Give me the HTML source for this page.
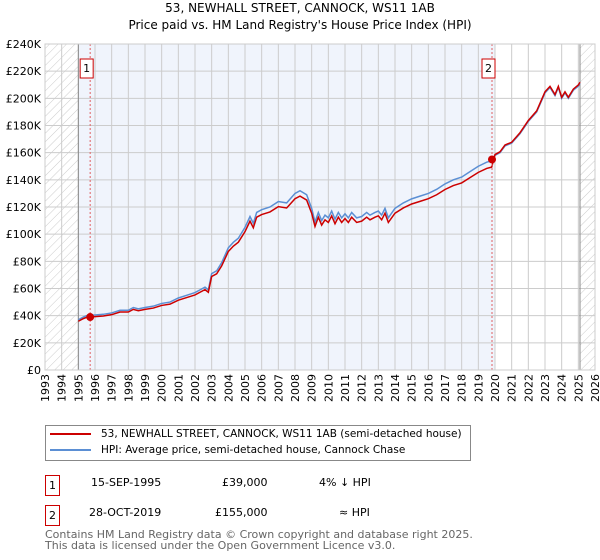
<!DOCTYPE html>
<html><head><meta charset="utf-8">
<style>
body{margin:0;width:600px;height:560px;background:#fff;font-family:"DejaVu Sans","Liberation Sans",sans-serif;position:relative;overflow:hidden;color:#000}
.t{position:absolute;white-space:nowrap}
</style></head><body>
<div class="t" style="left:0;width:600px;text-align:center;top:1px;font-size:12px">53, NEWHALL STREET, CANNOCK, WS11 1AB</div>
<div class="t" style="left:0;width:600px;text-align:center;top:18px;font-size:12px">Price paid vs. HM Land Registry's House Price Index (HPI)</div>
<svg id="chart" width="600" height="410" style="position:absolute;left:0;top:0" font-family="DejaVu Sans, Liberation Sans, sans-serif">
<defs><pattern id="hatch" width="6" height="6" patternUnits="userSpaceOnUse" patternTransform="rotate(45)"><line x1="0" y1="0" x2="0" y2="6" stroke="#ccc" stroke-width="1"/></pattern></defs>
</svg>
<div style="position:absolute;left:45px;top:425px;width:424px;height:34px;border:1px solid #888">
<div class="t" style="left:4px;top:2px;font-size:10.5px"><span style="display:inline-block;width:41px;height:2px;background:#cc0000;vertical-align:middle;margin-right:10px"></span>53, NEWHALL STREET, CANNOCK, WS11 1AB (semi-detached house)</div>
<div class="t" style="left:4px;top:18px;font-size:10.5px"><span style="display:inline-block;width:41px;height:2px;background:#5b8fd4;vertical-align:middle;margin-right:10px"></span>HPI: Average price, semi-detached house, Cannock Chase</div>
</div>
<div class="t" style="left:45px;top:475px;width:13px;height:19px;border:1px solid #cc0000;font-size:11px;text-align:center;line-height:19px">1</div>
<div class="t" style="left:91px;top:476px;font-size:11px">15-SEP-1995</div>
<div class="t" style="left:222px;top:476px;font-size:11px">£39,000</div>
<div class="t" style="left:319px;top:476px;font-size:11px">4% ↓ HPI</div>
<div class="t" style="left:45px;top:505px;width:13px;height:19px;border:1px solid #cc0000;font-size:11px;text-align:center;line-height:19px">2</div>
<div class="t" style="left:89px;top:506px;font-size:11px">28-OCT-2019</div>
<div class="t" style="left:215px;top:506px;font-size:11px">£155,000</div>
<div class="t" style="left:339px;top:506px;font-size:11px">≈ HPI</div>
<div class="t" style="left:45px;top:529px;font-size:11px;color:#666;line-height:11px">Contains HM Land Registry data © Crown copyright and database right 2025.<br>This data is licensed under the Open Government Licence v3.0.</div>
<script>
const yTicks=[0,20,40,60,80,100,120,140,160,180,200,220,240];
const years=[1993,1994,1995,1996,1997,1998,1999,2000,2001,2002,2003,2004,2005,2006,2007,2008,2009,2010,2011,2012,2013,2014,2015,2016,2017,2018,2019,2020,2021,2022,2023,2024,2025,2026];
const hpiDates=[1995.0,1995.3,1995.5,1996,1996.5,1997,1997.5,1998,1998.3,1998.6,1999,1999.5,2000,2000.5,2001,2001.5,2002,2002.3,2002.6,2002.8,2003,2003.3,2003.6,2004,2004.3,2004.6,2005,2005.3,2005.5,2005.7,2006,2006.5,2007,2007.5,2008,2008.3,2008.7,2009,2009.2,2009.4,2009.6,2009.8,2010,2010.2,2010.4,2010.6,2010.8,2011,2011.2,2011.4,2011.7,2012,2012.3,2012.5,2012.8,2013,2013.2,2013.4,2013.6,2014,2014.5,2015,2015.5,2016,2016.5,2017,2017.5,2018,2018.5,2019,2019.5,2019.8,2020,2020.3,2020.6,2021,2021.5,2022,2022.5,2023,2023.3,2023.6,2023.8,2024,2024.2,2024.4,2024.7,2025,2025.1];
const hpiValues=[37,39,40,40.5,41,42,44,44,46,45,46,47,49,50,53,55,57,59,61,59,71,73,79,90,94,97,105,113,108,116,118,120,124,123,130,132,129,119,109,116,110,114,112,117,111,116,112,115,112,116,112,113,116,114,116,117,114,119,112,119,123,126,128,130,133,137,140,142,146,150,153,154,158,160,165,167,174,183,190,204,208,202,208,200,204,200,206,209,211];
const sales=[{d:1995.71,v:39,label:"1"},{d:2019.82,v:155,label:"2"}];
const X0=45,X1=595,Y0=370,Y1=44;
const xs=y=>X0+(y-1993)/(2026-1993)*(X1-X0);
const ys=v=>Y0-v/240*(Y0-Y1);
const NS="http://www.w3.org/2000/svg";
const svg=document.getElementById('chart');
function mk(t,a,p){const e=document.createElementNS(NS,t);for(const k in a)e.setAttribute(k,a[k]);(p||svg).appendChild(e);return e;}
function hpiAt(d){for(let i=1;i<hpiDates.length;i++){if(d<=hpiDates[i]){const f=(d-hpiDates[i-1])/(hpiDates[i]-hpiDates[i-1]);return hpiValues[i-1]+f*(hpiValues[i]-hpiValues[i-1]);}}return hpiValues[hpiValues.length-1];}
const bg=mk('rect',{x:xs(1995),y:Y1,width:xs(2020)-xs(1995),height:Y0-Y1,fill:'#f0f4fc'});

const h1=mk('rect',{x:X0,y:Y1,width:xs(1995)-X0,height:Y0-Y1,fill:'url(#hatch)'});

const h2=mk('rect',{x:xs(2025.1),y:Y1,width:X1-xs(2025.1),height:Y0-Y1,fill:'url(#hatch)'});

yTicks.forEach(v=>{const l=mk('line',{x1:X0,x2:X1,y1:ys(v),y2:ys(v),stroke:'#ccc','stroke-width':1});

const t=mk('text',{x:X0-4,y:ys(v)+4,'text-anchor':'end','font-size':11});t.textContent=v===0?'£0':'£'+v+'K';
});
years.forEach(yr=>{const l=mk('line',{x1:xs(yr),x2:xs(yr),y1:Y1,y2:Y0,stroke:'#ccc','stroke-width':1});

const x=xs(yr)+4,y=374;
const t=mk('text',{x:x,y:y,'text-anchor':'end','font-size':11,transform:'rotate(-90 '+x+' '+y+')'});t.textContent=yr;
});
[1995,2025.1].forEach(d=>{const l=mk('line',{x1:xs(d),x2:xs(d),y1:Y1,y2:Y0,stroke:'#888','stroke-width':1});
});
const hp=mk('polyline',{points:hpiDates.map((d,i)=>xs(d)+','+ys(hpiValues[i])).join(' '),fill:'none',stroke:'#5b8fd4','stroke-width':1.5});

const r1=sales[0].v/hpiAt(sales[0].d),r2=sales[1].v/hpiAt(sales[1].d);
const pts=hpiDates.map((d,i)=>{const r=d<sales[1].d?r1:r2;return xs(d)+','+ys(hpiValues[i]*r);});
const pp=mk('polyline',{points:pts.join(' '),fill:'none',stroke:'#cc0000','stroke-width':1.5});

sales.forEach((s,i)=>{const l=mk('line',{x1:xs(s.d),x2:xs(s.d),y1:Y1,y2:Y0,stroke:'#e06060','stroke-width':1,'stroke-dasharray':'2,2'});

const c=mk('circle',{cx:xs(s.d),cy:ys(s.v),r:4,fill:'#cc0000'});

const b=mk('rect',{x:xs(s.d)-10,y:59,width:13,height:19,fill:'#fff',stroke:'#cc0000'});

const t=mk('text',{x:xs(s.d)-3.5,y:72,'text-anchor':'middle','font-size':11});t.textContent=s.label;
});
const fr=mk('rect',{x:X0,y:Y1,width:X1-X0,height:Y0-Y1,fill:'none',stroke:'#ccc'});

</script>
</body></html>
